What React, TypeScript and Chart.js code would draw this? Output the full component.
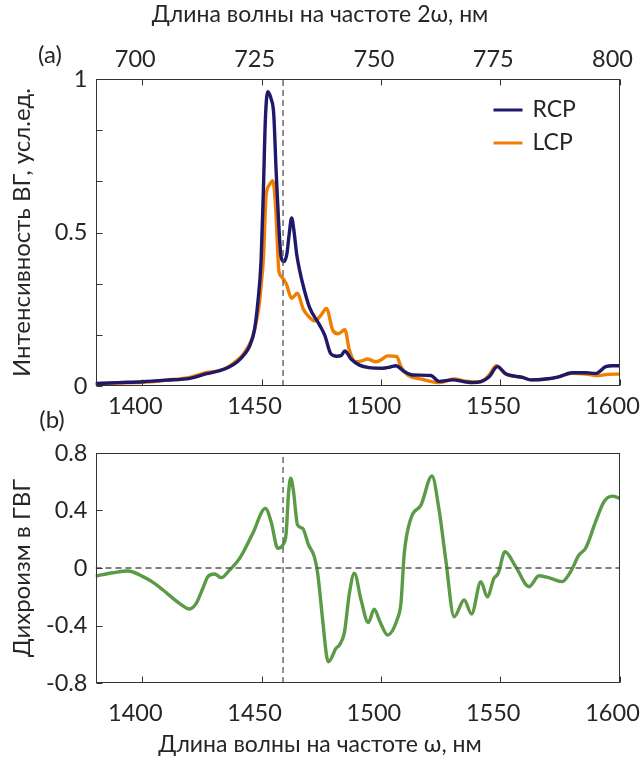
import { useEffect, useRef } from 'react';
import { Chart, registerables } from 'chart.js';

Chart.register(...registerables);

const FONT = 'Lato, "Open Sans", sans-serif';
const TEXT = '#262626';

// ---- data (wavelength at ω, nm) ----
const rcpWl = [1380.4, 1390, 1400, 1410, 1420, 1427, 1432, 1436, 1440, 1443, 1445, 1447, 1448.4, 1449.8, 1450.8, 1451.6, 1452.6, 1454, 1455.1, 1456.1, 1457.1, 1458.2, 1459.4, 1460.6, 1461.5, 1462.6, 1463.5, 1464.7, 1466, 1467.5, 1470, 1474.2, 1476.5, 1479, 1481.5, 1483.3, 1484.9, 1487.5, 1491, 1495, 1500.7, 1504, 1506.3, 1509.8, 1513.3, 1521, 1524.4, 1530, 1535, 1538.4, 1541.9, 1545.4, 1548.8, 1552.3, 1556, 1559.3, 1562.8, 1569, 1574.6, 1580.2, 1586, 1590, 1594.2, 1597, 1600];
const rcpVal = [0.008, 0.011, 0.014, 0.019, 0.025, 0.040, 0.049, 0.060, 0.080, 0.105, 0.130, 0.182, 0.27, 0.41, 0.65, 0.87, 0.959, 0.935, 0.885, 0.70, 0.54, 0.42, 0.405, 0.43, 0.49, 0.547, 0.51, 0.43, 0.375, 0.325, 0.258, 0.20, 0.165, 0.105, 0.097, 0.099, 0.114, 0.088, 0.068, 0.060, 0.058, 0.062, 0.066, 0.047, 0.036, 0.034, 0.015, 0.02, 0.014, 0.011, 0.014, 0.03, 0.063, 0.04, 0.032, 0.028, 0.02, 0.023, 0.03, 0.043, 0.043, 0.041, 0.063, 0.066, 0.066];

const lcpWl = [1380.4, 1390, 1400, 1410, 1420, 1427, 1432, 1436, 1440, 1442, 1444.5, 1446.3, 1447.8, 1449.1, 1450.2, 1450.8, 1451.9, 1453.3, 1454.7, 1455.8, 1456.5, 1457.2, 1458.5, 1460.3, 1462.6, 1465, 1467.5, 1470, 1472.5, 1475, 1477.2, 1479.8, 1482.1, 1484.9, 1486.8, 1489.3, 1492, 1494.4, 1497.9, 1500, 1502.8, 1506.6, 1508.4, 1511.2, 1517.4, 1524.4, 1530.7, 1535.6, 1541.9, 1545.4, 1548.4, 1552.3, 1559.3, 1562.8, 1571.8, 1580.2, 1585.8, 1591.4, 1595, 1600];
const lcpVal = [0.007, 0.010, 0.012, 0.019, 0.028, 0.044, 0.049, 0.062, 0.085, 0.100, 0.13, 0.161, 0.21, 0.27, 0.36, 0.42, 0.62, 0.655, 0.669, 0.595, 0.486, 0.378, 0.355, 0.334, 0.286, 0.302, 0.250, 0.224, 0.212, 0.232, 0.253, 0.182, 0.170, 0.183, 0.117, 0.079, 0.082, 0.088, 0.079, 0.085, 0.098, 0.096, 0.063, 0.036, 0.022, 0.011, 0.023, 0.016, 0.014, 0.036, 0.066, 0.039, 0.028, 0.02, 0.025, 0.041, 0.039, 0.034, 0.038, 0.039];

const dichroWl = [1380.4, 1387.7, 1394, 1400.3, 1404.5, 1408.7, 1415.6, 1419.8, 1422.6, 1425.4, 1427.5, 1430.3, 1433.1, 1436.6, 1440.8, 1446.3, 1451.6, 1454, 1456.8, 1458.9, 1460.3, 1461.3, 1462.2, 1463.3, 1465.1, 1467.2, 1469.7, 1472.1, 1473.5, 1475.6, 1477.3, 1478.1, 1481.2, 1482.6, 1484.7, 1486.8, 1488.9, 1491.7, 1494.7, 1497.2, 1499.6, 1502.8, 1507, 1508.4, 1509.8, 1512.6, 1516.8, 1521.4, 1524.4, 1527.2, 1530.7, 1534.9, 1538, 1541.9, 1544.6, 1547.4, 1549.2, 1552, 1556.5, 1562.1, 1566.3, 1571.2, 1576, 1579.5, 1583, 1585.8, 1590, 1593.5, 1597, 1600];
const dichroVal = [-0.056, -0.033, -0.021, -0.06, -0.10, -0.153, -0.246, -0.285, -0.246, -0.141, -0.06, -0.042, -0.067, -0.014, 0.067, 0.241, 0.415, 0.322, 0.137, 0.16, 0.241, 0.52, 0.624, 0.543, 0.299, 0.276, 0.16, 0.079, -0.037, -0.362, -0.617, -0.652, -0.559, -0.536, -0.45, -0.176, -0.037, -0.223, -0.38, -0.287, -0.373, -0.466, -0.35, -0.246, 0.102, 0.346, 0.438, 0.64, 0.403, 0.056, -0.339, -0.223, -0.32, -0.095, -0.2, -0.072, -0.037, 0.113, 0.009, -0.13, -0.054, -0.072, -0.095, -0.026, 0.09, 0.137, 0.322, 0.461, 0.5, 0.485];

const xMin = 1380.4;
const xMax = 1600;
const markerWl = 1459;
const bottomTicks = [1400, 1450, 1500, 1550, 1600];
const topTicks = [700, 725, 750, 775, 800];
const intensityTicks = [0, 1 / 6, 2 / 6, 3 / 6, 4 / 6, 5 / 6, 1];
const intensityLabels = ['0', '', '', '0.5', '', '', '1'];
const dichroTicks = [-0.8, -0.4, 0, 0.4, 0.8];
const dichroLabels = ['-0.8', '-0.4', '0', '0.4', '0.8'];
const legendLabels = ['RCP', 'LCP'];
const topTitle = 'Длина волны на частоте 2ω, нм';
const bottomTitle = 'Длина волны на частоте ω, нм';

const COLORS = { rcp: '#1f196b', lcp: '#f07e00', dichro: '#5b9a47', dash: '#555555', frame: '#333333' };
const TICK_FS = 23.5;
const XTITLE_FS = 23;
const YTITLE_FS = 24;

const pts = (xs: number[], ys: number[]) => xs.map((x, i) => ({ x, y: ys[i] }));

const framePlugin = {
  id: 'frameTicks',
  afterDatasetsDraw(chart: any) {
    const { ctx, chartArea: a } = chart;
    const L = 6;
    ctx.save();
    ctx.strokeStyle = COLORS.frame;
    ctx.lineWidth = 1;
    const l = Math.round(a.left) + 0.5, r = Math.round(a.right) - 0.5;
    const t = Math.round(a.top) + 0.5, b = Math.round(a.bottom) - 0.5;
    ctx.strokeRect(l, t, r - l, b - t);
    ctx.beginPath();
    const xs = chart.scales.x;
    xs.ticks.forEach((tk: any) => {
      const px = Math.round(xs.getPixelForValue(tk.value)) + 0.5;
      ctx.moveTo(px, b); ctx.lineTo(px, b - L);
    });
    const x2 = chart.scales.x2;
    if (x2) {
      x2.ticks.forEach((tk: any) => {
        const px = Math.round(x2.getPixelForValue(tk.value)) + 0.5;
        ctx.moveTo(px, t); ctx.lineTo(px, t + L);
      });
    }
    const ys = chart.scales.y;
    ys.ticks.forEach((tk: any) => {
      const py = Math.round(ys.getPixelForValue(tk.value)) + 0.5;
      ctx.moveTo(l, py); ctx.lineTo(l + L, py);
    });
    ctx.stroke();
    ctx.restore();
  },
};

const textPlugin = {
  id: 'extraText',
  afterDraw(chart: any, _args: any, opts: any) {
    if (!opts || !opts.items) return;
    const { ctx } = chart;
    ctx.save();
    ctx.fillStyle = TEXT;
    ctx.textAlign = 'center';
    ctx.textBaseline = 'middle';
    opts.items.forEach((it: any) => {
      ctx.font = `${it.size}px ${FONT}`;
      ctx.fillText(it.text, it.x, it.y);
    });
    ctx.restore();
  },
};

const seriesLegendPlugin = {
  id: 'seriesLegend',
  afterDraw(chart: any, _args: any, opts: any) {
    if (!opts || !opts.show) return;
    const { ctx, chartArea: a } = chart;
    const items = chart.data.datasets.filter((d: any) => legendLabels.includes(d.label));
    ctx.save();
    ctx.font = `23px ${FONT}`;
    ctx.textAlign = 'left';
    ctx.textBaseline = 'middle';
    items.forEach((d: any, i: number) => {
      const y = a.top + opts.top + i * opts.rowGap;
      const x0 = a.right - opts.fromRight;
      ctx.strokeStyle = d.borderColor;
      ctx.lineWidth = 3;
      ctx.beginPath();
      ctx.moveTo(x0, y);
      ctx.lineTo(x0 + opts.lineLen, y);
      ctx.stroke();
      ctx.fillStyle = TEXT;
      ctx.fillText(d.label, x0 + opts.lineLen + opts.gap, y);
    });
    ctx.restore();
  },
};

const tickFont = { family: FONT, size: TICK_FS };
const yTitleFont = { family: FONT, size: YTITLE_FS };
const noGrid = { display: false, drawTicks: false };

const zeroPad = (s: any) => { s.paddingLeft = 0; s.paddingRight = 0; s.paddingTop = 0; s.paddingBottom = 0; };

function makeTopConfig(): any {
  return {
    type: 'line',
    data: {
      datasets: [
        { label: 'marker', data: [{ x: markerWl, y: 0 }, { x: markerWl, y: 1 }], borderColor: COLORS.dash, borderWidth: 1.3, borderDash: [6, 4], pointRadius: 0, tension: 0 },
        { label: 'RCP', data: pts(rcpWl, rcpVal), borderColor: COLORS.rcp, borderWidth: 3.4, pointRadius: 0, cubicInterpolationMode: 'monotone' },
        { label: 'LCP', data: pts(lcpWl, lcpVal), borderColor: COLORS.lcp, borderWidth: 3.4, pointRadius: 0, cubicInterpolationMode: 'monotone' },
      ],
    },
    options: {
      animation: false,
      responsive: false,
      events: [],
      layout: { padding: { left: 0, right: 21.5, top: 0, bottom: 0 } },
      plugins: {
        legend: { display: false },
        tooltip: { enabled: false },
        extraText: { items: [
          { text: '(a)', x: 50, y: 55, size: 24 },
          { text: topTitle, x: 320, y: 15, size: XTITLE_FS },
        ] },
        seriesLegend: { show: true, top: 31, rowGap: 33, fromRight: 126, lineLen: 29, gap: 10 },
      },
      scales: {
        x: {
          type: 'linear', position: 'bottom', min: xMin, max: xMax,
          afterBuildTicks: (s: any) => { s.ticks = bottomTicks.map((v) => ({ value: v })); },
          grid: noGrid, border: { display: false },
          ticks: { font: tickFont, color: TEXT, padding: 6, labelOffset: -7, maxRotation: 0, autoSkip: false, callback: (v: any) => String(v) },
          afterFit: (s: any) => { s.height = 44; zeroPad(s); },
        },
        x2: {
          type: 'linear', position: 'top', min: xMin / 2, max: xMax / 2,
          afterBuildTicks: (s: any) => { s.ticks = topTicks.map((v) => ({ value: v })); },
          grid: noGrid, border: { display: false },
          ticks: { font: tickFont, color: TEXT, padding: 5, labelOffset: -7, maxRotation: 0, autoSkip: false, callback: (v: any) => String(v) },
          afterFit: (s: any) => { s.height = 79; zeroPad(s); },
        },
        y: {
          type: 'linear', position: 'left', min: 0, max: 1,
          afterBuildTicks: (s: any) => { s.ticks = intensityTicks.map((v) => ({ value: v })); },
          grid: noGrid, border: { display: false },
          ticks: { font: tickFont, color: TEXT, padding: 8, autoSkip: false, callback: (_v: any, i: number) => intensityLabels[i] },
          title: { display: true, text: 'Интенсивность ВГ, усл.ед.', font: yTitleFont, color: TEXT, padding: { top: 8, bottom: 0 } },
          afterFit: (s: any) => { s.width = 95.5; zeroPad(s); },
        },
      },
    },
    plugins: [framePlugin, textPlugin, seriesLegendPlugin],
  };
}

function makeBottomConfig(): any {
  return {
    type: 'line',
    data: {
      datasets: [
        { label: 'marker', data: [{ x: markerWl, y: -0.8 }, { x: markerWl, y: 0.8 }], borderColor: COLORS.dash, borderWidth: 1.3, borderDash: [6, 4], pointRadius: 0, tension: 0 },
        { label: 'zero', data: [{ x: xMin, y: 0 }, { x: xMax, y: 0 }], borderColor: COLORS.dash, borderWidth: 1.3, borderDash: [6, 4], pointRadius: 0, tension: 0 },
        { label: 'Дихроизм', data: pts(dichroWl, dichroVal), borderColor: COLORS.dichro, borderWidth: 3.4, pointRadius: 0, cubicInterpolationMode: 'monotone' },
      ],
    },
    options: {
      animation: false,
      responsive: false,
      events: [],
      layout: { padding: { left: 0, right: 21.5, top: 53, bottom: 0 } },
      plugins: {
        legend: { display: false },
        tooltip: { enabled: false },
        extraText: { items: [
          { text: '(b)', x: 52, y: 20, size: 24 },
          { text: bottomTitle, x: 320, y: 345, size: XTITLE_FS },
        ] },
        seriesLegend: { show: false },
      },
      scales: {
        x: {
          type: 'linear', position: 'bottom', min: xMin, max: xMax,
          afterBuildTicks: (s: any) => { s.ticks = bottomTicks.map((v) => ({ value: v })); },
          grid: noGrid, border: { display: false },
          ticks: { font: tickFont, color: TEXT, padding: 16, labelOffset: -7, maxRotation: 0, autoSkip: false, callback: (v: any) => String(v) },
          afterFit: (s: any) => { s.height = 77; zeroPad(s); },
        },
        y: {
          type: 'linear', position: 'left', min: -0.8, max: 0.8,
          afterBuildTicks: (s: any) => { s.ticks = dichroTicks.map((v) => ({ value: v })); },
          grid: noGrid, border: { display: false },
          ticks: { font: tickFont, color: TEXT, padding: 8, autoSkip: false, callback: (_v: any, i: number) => dichroLabels[i] },
          title: { display: true, text: 'Дихроизм в ГВГ', font: yTitleFont, color: TEXT, padding: { top: 8, bottom: 0 } },
          afterFit: (s: any) => { s.width = 95.5; zeroPad(s); },
        },
      },
    },
    plugins: [framePlugin, textPlugin, seriesLegendPlugin],
  };
}

export default function App() {
  const topRef = useRef<HTMLCanvasElement | null>(null);
  const botRef = useRef<HTMLCanvasElement | null>(null);

  useEffect(() => {
    if (!topRef.current || !botRef.current) return;
    const c1 = new Chart(topRef.current, makeTopConfig());
    const c2 = new Chart(botRef.current, makeBottomConfig());
    return () => { c1.destroy(); c2.destroy(); };
  }, []);

  return (
    <div style={{ position: 'absolute', left: 0, top: 0, width: 641, height: 760, background: '#ffffff' }}>
      <canvas ref={topRef} width={641} height={430} style={{ position: 'absolute', left: 0, top: 0, width: 641, height: 430 }} />
      <canvas ref={botRef} width={641} height={360} style={{ position: 'absolute', left: 0, top: 400, width: 641, height: 360 }} />
    </div>
  );
}
